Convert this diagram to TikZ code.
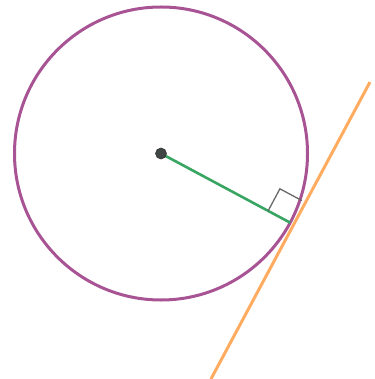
\documentclass[tikz,border=0pt]{standalone}
\usetikzlibrary{calc}
\definecolor{circlepurple}{RGB}{168,84,148}
\definecolor{tangentorange}{RGB}{255,172,96}
\definecolor{radiusgreen}{RGB}{56,166,98}
\definecolor{markgray}{RGB}{105,105,105}
\definecolor{dotgray}{RGB}{64,70,68}
\begin{document}
\begin{tikzpicture}[x=1pt, y=-1pt,
    circ/.style={draw=circlepurple, line width=3pt},
    tangent/.style={draw=tangentorange, line width=3pt},
    radiusline/.style={draw=radiusgreen, line width=2.6pt},
    rightmark/.style={draw=markgray, line width=1.3pt},
    centerdot/.style={circle, fill=dotgray, draw=black!80, line width=0.6pt,
                      inner sep=0pt, minimum size=11pt}]
    \useasboundingbox (0,0) rectangle (374,379);

    % Circle and its centre
    \coordinate (C) at (161,153.5);
    \draw[circ] (C) circle[radius=146.5pt];

    % Point of contact and tangent line
    \coordinate (T) at ($(C)+(28.17:146.5)$);
    \coordinate (O) at ($(C)+(28.17:150.5)$);
    \coordinate (Otop) at ($(O)+(-61.83:161.6)$);
    \coordinate (Obot) at ($(O)+(118.17:175.3)$);
    \draw[tangent] (Otop) -- (Obot);

    % Radius to the point of contact
    \draw[radiusline] (C) -- (T);

    % Right angle mark
    \coordinate (M1) at ($(T)!25pt!(C)$);
    \coordinate (M2) at ($(M1)+(-61.83:25)$);
    \coordinate (M3) at ($(T)+(-61.83:25)$);
    \draw[rightmark] (M1) -- (M2) -- (M3);

    % Centre point
    \node[centerdot] (Cdot) at (C) {};
\end{tikzpicture}
\end{document}
